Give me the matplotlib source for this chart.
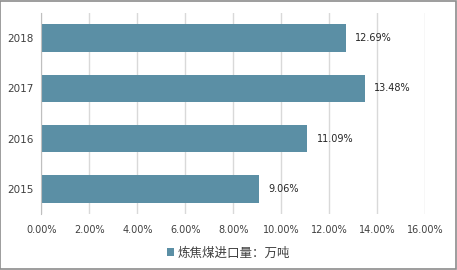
import matplotlib
matplotlib.use('Agg')
import matplotlib.pyplot as plt
from matplotlib.patches import Rectangle
from matplotlib.ticker import FuncFormatter

# data
years = ['2015', '2016', '2017', '2018']
values = [9.06, 11.09, 13.48, 12.69]
xticks = [0, 2, 4, 6, 8, 10, 12, 14, 16]
legend_label = '炼焦煤进口量：万吨'

BAR_COLOR = '#5b8fa5'
TEXT_COLOR = '#404040'

plt.rcParams['font.family'] = ['Noto Sans CJK SC', 'DejaVu Sans']

fig = plt.figure(figsize=(4.57, 2.70), dpi=100)
fig.patch.set_facecolor('white')
fig.patches.append(Rectangle((0.001, 0.002), 0.997, 0.995, transform=fig.transFigure,
                             fill=False, edgecolor='#8c8c8c', linewidth=1.2))

ax = fig.add_axes([0.0908, 0.2074, 0.8392, 0.7445])
ypos = list(range(len(years)))
bars = ax.barh(ypos, values, height=0.55, color=BAR_COLOR, label=legend_label, zorder=3)

for y, v in zip(ypos, values):
    ax.annotate(f'{v:.2f}%', (v, y), xytext=(7, 0), textcoords='offset points',
                va='center', ha='left', fontsize=7, color='#262626', family='DejaVu Sans')

ax.set_xlim(0, 16)
ax.set_ylim(-0.5, 3.5)
ax.set_xticks(xticks)
ax.xaxis.set_major_formatter(FuncFormatter(lambda x, _: f'{x:.2f}%'))
ax.set_yticks(ypos)
ax.set_yticklabels(years)
ax.tick_params(axis='both', length=0, labelsize=7, colors=TEXT_COLOR, pad=8)
ax.tick_params(axis='y', labelsize=7.5, pad=6)
for lbl in ax.get_xticklabels() + ax.get_yticklabels():
    lbl.set_family('DejaVu Sans')

ax.grid(axis='x', color='#d9d9d9', linewidth=1, zorder=0)
for s in ['top', 'right', 'bottom']:
    ax.spines[s].set_visible(False)
ax.spines['left'].set_color('#bfbfbf')
ax.spines['left'].set_zorder(4)

fig.legend(handles=[bars], labels=[legend_label], loc='center', bbox_to_anchor=(0.5, 0.063),
           frameon=False, fontsize=9, handlelength=0.6, handleheight=0.6,
           handletextpad=0.3, labelcolor=TEXT_COLOR)

fig.savefig('out.png', dpi=100)
